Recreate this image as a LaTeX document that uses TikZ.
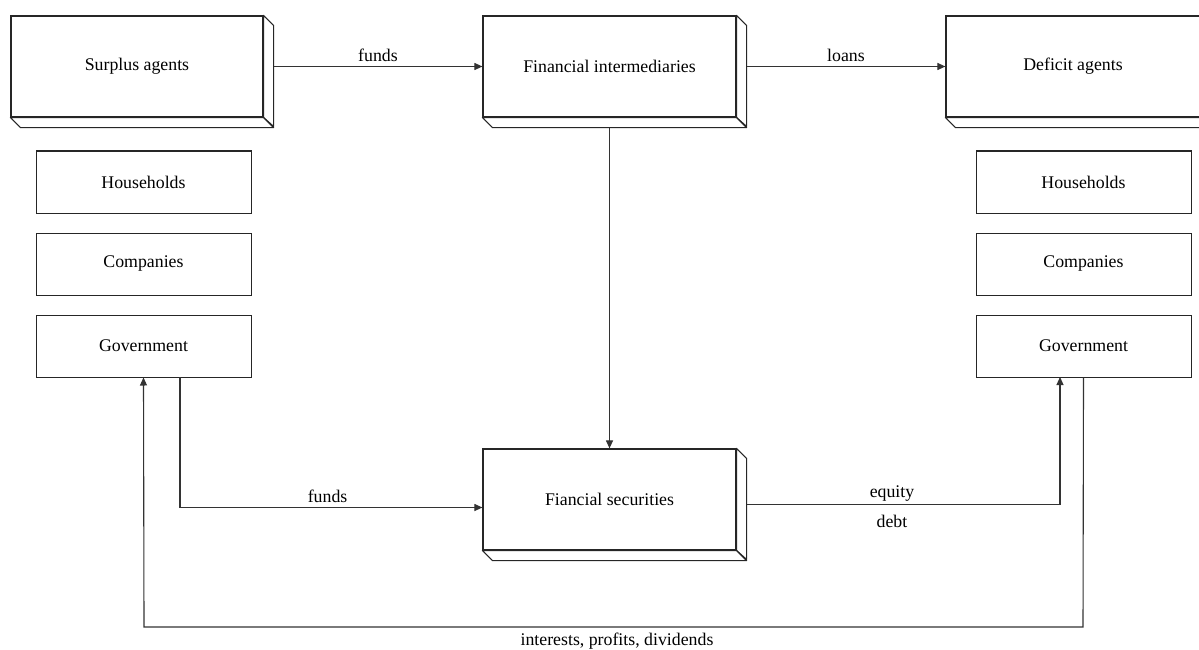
\documentclass[tikz,border=0pt]{standalone}
\usepackage{fontspec}
\setmainfont{Liberation Serif}
\usetikzlibrary{arrows.meta}
\begin{document}
\begin{tikzpicture}[x=1pt,y=-1pt,
  every node/.style={font=\fontsize{17.8}{21}\selectfont},
  front/.style={draw=black!85,line width=1.2pt,fill=white,inner sep=0pt,
    minimum width=253pt,minimum height=101pt},
  member/.style={draw=black!85,line width=1pt,fill=white,inner sep=0pt,
    minimum width=215pt,minimum height=62pt},
  depth/.style={draw=black!85,line width=1.1pt,fill=white,line join=round},
  link/.style={draw=black!80,line width=1.1pt},
  arr/.style={link,-{Triangle[length=8pt,width=7pt]}},
  lbl/.style={inner sep=1pt}
]
\useasboundingbox (0,0) rectangle (1199,650);

% main blocks (front faces)
\node[front,minimum width=252pt] (sa) at (137,66.5) {Surplus agents};
\node[front] (fi) at (609.5,66.5) {Financial intermediaries};
\node[front,minimum width=254pt] (da) at (1073,66.5) {Deficit agents};
\node[front] (fs) at (609.5,499.5) {Fiancial securities};

% extruded side and bottom faces of the main blocks
\foreach \b in {sa,fi,da,fs}{
  \draw[depth] (\b.north east) -- ++(10,10) -- ++(0,101) -- (\b.south east) -- cycle;
  \draw[depth] (\b.south west) -- ++(10,10) -- ([shift={(10,10)}]\b.south east) -- (\b.south east) -- cycle;
}

% agent groups
\node[member] (lh) at (143.5,182) {Households};
\node[member] (lc) at (143.5,264) {Companies};
\node[member] (lg) at (143.5,346) {Government};
\node[member] (rh) at (1083.5,182) {Households};
\node[member] (rc) at (1083.5,264) {Companies};
\node[member] (rg) at (1083.5,346) {Government};

% anchor points on the extruded faces
\coordinate (saR) at ([shift={(10,0)}]sa.east);
\coordinate (fiR) at ([shift={(10,0)}]fi.east);
\coordinate (fiB) at ([shift={(0,10)}]fi.south);
\coordinate (fsR) at ([shift={(10,5)}]fs.east);

% direct financing through intermediaries
\draw[arr] (saR) -- node[lbl,above=3pt] {funds} (fi.west);
\draw[arr] (fiR) -- node[lbl,above=3pt] {loans} (da.west);
\draw[arr] (fiB) -- (fs.north);

% funds into securities
\coordinate (lgout) at (180,377);
\coordinate (fsin) at ([shift={(0,8)}]fs.west);
\draw[arr] (lgout) |- node[lbl,pos=0.744,above=3pt] {funds} (fsin);

% securities to deficit agents
\coordinate (rgin) at (1060,377);
\draw[arr] (fsR) -| (rgin);
\node[lbl] (eq) at (892,494) {equity};
\node[lbl] (db) at (892,521) {debt};

% returns back to surplus agents
\coordinate (bl) at (144,627);
\coordinate (br) at (1083,627);
\draw[arr] (rg.south) -- (br) -- (bl) -- (lg.south);
\node[lbl] (ret) at (617,641) {interests, profits, dividends};
\end{tikzpicture}
\end{document}
